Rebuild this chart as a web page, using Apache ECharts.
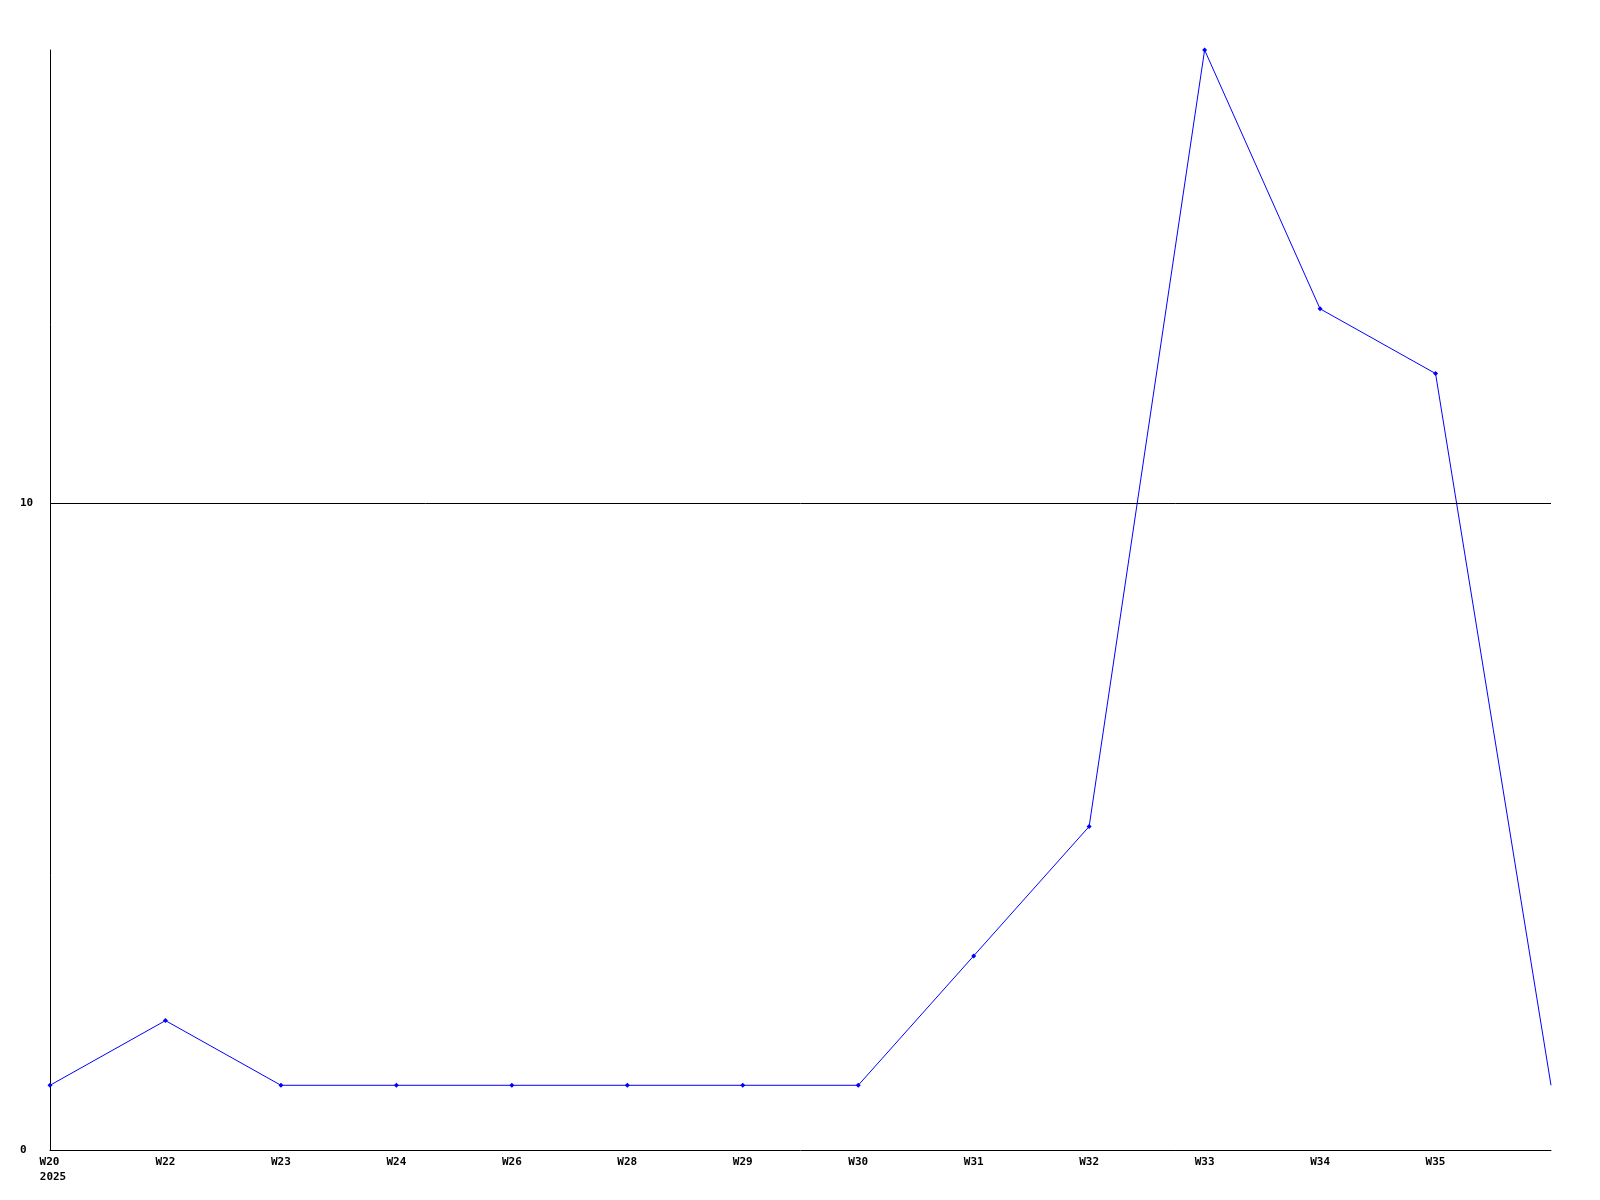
<!DOCTYPE html>
<html>
<head>
<meta charset="utf-8">
<script src="https://cdn.jsdelivr.net/npm/echarts@6/dist/echarts.min.js"></script>
<style>
html,body{margin:0;padding:0;background:#fff;}
#chart{width:1600px;height:1200px;}
</style>
</head>
<body>
<div id="chart"></div>
<script>
const categories = ['W20', 'W22', 'W23', 'W24', 'W26', 'W28', 'W29', 'W30', 'W31', 'W32', 'W33', 'W34', 'W35', ''];
const values = [1, 2, 1, 1, 1, 1, 1, 1, 3, 5, 17, 13, 12, 1];
const yearLabel = '2025';
const yTicks = [0, 10];
const yMax = 17;

const font = '"DejaVu Sans Mono", "Liberation Mono", monospace';
const seriesData = values.map(function (v, i) {
  return i === values.length - 1 ? {value: v, symbol: 'none'} : v;
});
const chart = echarts.init(document.getElementById('chart'), null, {renderer: 'canvas'});
chart.setOption({
  backgroundColor: '#ffffff',
  animation: false,
  grid: {left: 50, right: 49, top: 50, bottom: 50, containLabel: false},
  xAxis: {
    type: 'category',
    data: categories,
    boundaryGap: false,
    axisLine: {show: true, lineStyle: {color: '#000', width: 1}},
    axisTick: {show: false},
    splitLine: {show: false},
    axisLabel: {
      interval: 0,
      margin: 5,
      color: '#000',
      fontFamily: font,
      fontWeight: 'bold',
      fontSize: 11,
      lineHeight: 15,
      formatter: function (v, i) { return i === 0 ? '{a|' + v + '}\n{b|' + yearLabel + '}' : v; },
      rich: {
        a: {fontFamily: font, fontWeight: 'bold', fontSize: 11, lineHeight: 15, color: '#000', padding: [0, 7, 0, 6]},
        b: {fontFamily: font, fontWeight: 'bold', fontSize: 11, lineHeight: 15, color: '#000', padding: [0, 0, 0, 6]}
      }
    }
  },
  yAxis: {
    type: 'value',
    min: 0,
    max: yMax,
    interval: 10,
    axisLine: {show: true, lineStyle: {color: '#000', width: 1}},
    axisTick: {show: false},
    splitLine: {show: false},
    axisLabel: {
      margin: 30,
      align: 'left',
      color: '#000',
      fontFamily: font,
      fontWeight: 'bold',
      fontSize: 11,
      formatter: function (v) { return yTicks.indexOf(v) >= 0 ? String(v) : ''; }
    }
  },
  series: [{
    type: 'line',
    data: seriesData,
    symbol: 'diamond',
    symbolSize: 5,
    showAllSymbol: true,
    lineStyle: {color: '#0000ff', width: 1},
    itemStyle: {color: '#0000ff'},
    markLine: {
      silent: true,
      symbol: ['none', 'none'],
      label: {show: false},
      lineStyle: {color: '#000', width: 1, type: 'solid'},
      data: [{yAxis: yTicks[1]}]
    }
  }]
});
</script>
</body>
</html>
